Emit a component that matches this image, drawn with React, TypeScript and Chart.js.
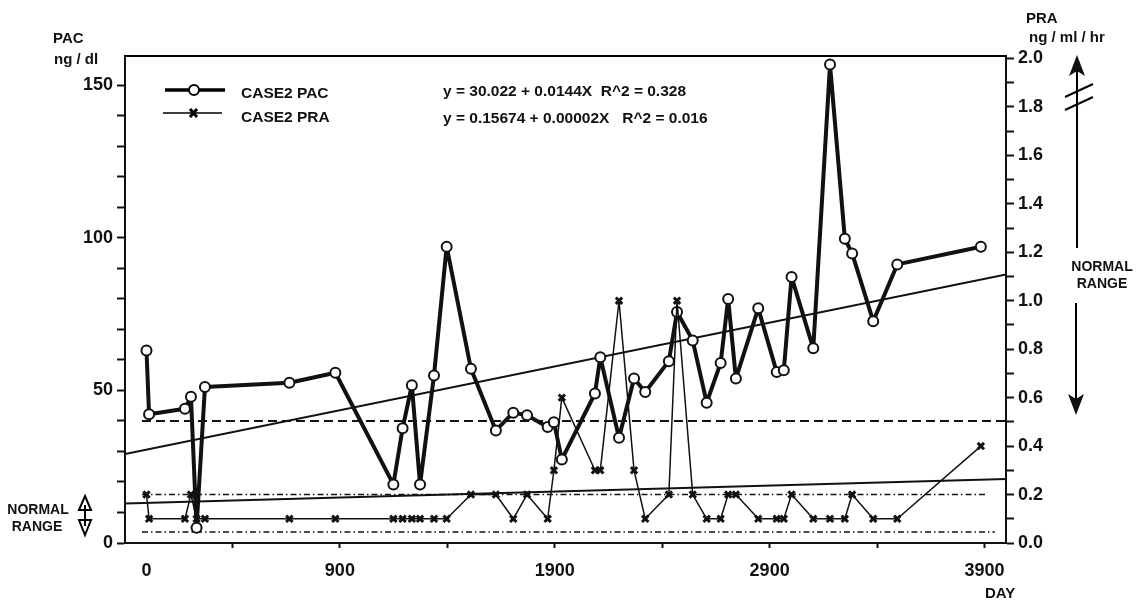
import React, { useEffect, useRef } from "react";
import { Chart, registerables } from "chart.js";

Chart.register(...registerables);

// Sampling days (shared by both series)
const DAYS = [0, 12, 179, 207, 233, 272, 665, 879, 1149, 1192, 1235, 1273, 1338, 1397, 1510, 1626, 1707, 1771, 1867, 1896, 1933, 2087, 2112, 2199, 2269, 2321, 2431, 2469, 2542, 2607, 2672, 2707, 2743, 2847, 2933, 2966, 3002, 3103, 3181, 3250, 3284, 3382, 3494, 3883];
// CASE2 PAC (ng/dl)
const PAC = [63.1, 42.2, 44, 47.9, 5.0, 51.1, 52.5, 55.8, 19.2, 37.6, 51.7, 19.2, 54.9, 97.1, 57.1, 36.9, 42.7, 41.9, 38, 39.6, 27.4, 49, 60.9, 34.5, 53.9, 49.5, 59.6, 75.7, 66.4, 46, 59, 80, 53.9, 76.9, 56, 56.6, 87.2, 63.8, 156.8, 99.7, 94.9, 72.7, 91.3, 97.1];
// CASE2 PRA (ng/ml/hr)
const PRA = [0.2, 0.1, 0.1, 0.2, 0.1, 0.1, 0.1, 0.1, 0.1, 0.1, 0.1, 0.1, 0.1, 0.1, 0.2, 0.2, 0.1, 0.2, 0.1, 0.3, 0.6, 0.3, 0.3, 1.0, 0.3, 0.1, 0.2, 1.0, 0.2, 0.1, 0.1, 0.2, 0.2, 0.1, 0.1, 0.1, 0.2, 0.1, 0.1, 0.1, 0.2, 0.1, 0.1, 0.4];

// Regression lines (end points as drawn)
const FIT_DAYS = [-100, 4000];
const PAC_FIT = [29.2, 88.0];
const PRA_FIT = [0.163, 0.264];

// Normal range reference lines
const PAC_NORMAL_DAYS = [-21, 4000];
const PAC_NORMAL = [40, 40];
const PRA_UPPER_DAYS = [-21, 3911];
const PRA_UPPER = [0.2, 0.2];
const PRA_LOWER_DAYS = [-21, 3948];
const PRA_LOWER = [0.045, 0.045];

// Ticks
const X_TICKS = [0, 400, 900, 1400, 1900, 2400, 2900, 3400, 3900];
const X_LABELED = [0, 900, 1900, 2900, 3900];
const LEFT_TICKS = [0, 10, 20, 30, 40, 50, 60, 70, 80, 90, 100, 110, 120, 130, 140, 150];
const LEFT_LABELED = [0, 50, 100, 150];
const RIGHT_TICKS = [0, 0.1, 0.2, 0.3, 0.4, 0.5, 0.6, 0.7, 0.8, 0.9, 1.0, 1.1, 1.2, 1.3, 1.4, 1.5, 1.6, 1.7, 1.8, 1.9, 2.0];
const RIGHT_LABELED = ["0.0", "0.2", "0.4", "0.6", "0.8", "1.0", "1.2", "1.4", "1.6", "1.8", "2.0"];

const LEGEND = ["CASE2 PAC", "CASE2 PRA"];
const EQUATIONS = ["y = 30.022 + 0.0144X  R^2 = 0.328", "y = 0.15674 + 0.00002X   R^2 = 0.016"];

const FONT = "'Liberation Sans', Arial, sans-serif";

function pts(xs: number[], ys: number[]) {
  return xs.map((x, i) => ({ x, y: ys[i] }));
}

const decorPlugin = {
  id: "decor",
  afterDraw(chart: any) {
    const ctx = chart.ctx as CanvasRenderingContext2D;
    const a = chart.chartArea;
    ctx.save();
    ctx.strokeStyle = "#000";
    ctx.fillStyle = "#111";
    // top border
    ctx.lineWidth = 2;
    ctx.beginPath();
    ctx.moveTo(a.left - 1, a.top);
    ctx.lineTo(a.right + 1, a.top);
    ctx.stroke();

    ctx.textBaseline = "middle";
    ctx.textAlign = "left";
    ctx.font = `bold 15px ${FONT}`;
    ctx.fillText("PAC", 53, 39);
    ctx.fillText("ng / dl", 54, 60);
    ctx.fillText("PRA", 1026, 19);
    ctx.fillText("ng / ml / hr", 1029, 38);
    ctx.fillText("DAY", 985, 594);

    ctx.font = `bold 14px ${FONT}`;
    ctx.textAlign = "center";
    ctx.fillText("NORMAL", 1102, 267);
    ctx.fillText("RANGE", 1102, 284);
    ctx.fillText("NORMAL", 38, 510);
    ctx.fillText("RANGE", 37, 527);

    // legend
    ctx.lineWidth = 3.5;
    ctx.beginPath();
    ctx.moveTo(165, 90);
    ctx.lineTo(225, 90);
    ctx.stroke();
    ctx.fillStyle = "#fff";
    ctx.lineWidth = 2;
    ctx.beginPath();
    ctx.arc(194, 90, 5, 0, Math.PI * 2);
    ctx.fill();
    ctx.stroke();
    ctx.lineWidth = 1.5;
    ctx.beginPath();
    ctx.moveTo(163, 113);
    ctx.lineTo(222, 113);
    ctx.stroke();
    ctx.lineWidth = 3;
    ctx.beginPath();
    ctx.moveTo(190, 109);
    ctx.lineTo(197, 117);
    ctx.moveTo(197, 109);
    ctx.lineTo(190, 117);
    ctx.stroke();

    ctx.fillStyle = "#111";
    ctx.textAlign = "left";
    ctx.font = `bold 15.5px ${FONT}`;
    ctx.fillText(LEGEND[0], 241, 94);
    ctx.fillText(LEGEND[1], 241, 118);
    ctx.fillText(EQUATIONS[0], 443, 92);
    ctx.fillText(EQUATIONS[1], 443, 119);

    // right arrows
    ctx.lineWidth = 2;
    ctx.beginPath();
    ctx.moveTo(1077, 248);
    ctx.lineTo(1077, 70);
    ctx.stroke();
    ctx.beginPath();
    ctx.moveTo(1077, 55);
    ctx.lineTo(1085, 76);
    ctx.lineTo(1077, 71);
    ctx.lineTo(1069, 76);
    ctx.closePath();
    ctx.fill();
    ctx.lineWidth = 2;
    ctx.beginPath();
    ctx.moveTo(1065, 97);
    ctx.lineTo(1093, 84);
    ctx.moveTo(1065, 110);
    ctx.lineTo(1093, 97);
    ctx.stroke();
    ctx.beginPath();
    ctx.moveTo(1076, 303);
    ctx.lineTo(1076, 405);
    ctx.stroke();
    ctx.beginPath();
    ctx.moveTo(1076, 415);
    ctx.lineTo(1084, 394);
    ctx.lineTo(1076, 399);
    ctx.lineTo(1068, 394);
    ctx.closePath();
    ctx.fill();

    // left double arrow (hollow heads)
    ctx.lineWidth = 2;
    ctx.beginPath();
    ctx.moveTo(85, 505);
    ctx.lineTo(85, 526);
    ctx.stroke();
    ctx.beginPath();
    ctx.moveTo(85, 496);
    ctx.lineTo(91, 510);
    ctx.lineTo(79, 510);
    ctx.closePath();
    ctx.stroke();
    ctx.beginPath();
    ctx.moveTo(85, 535);
    ctx.lineTo(91, 520);
    ctx.lineTo(79, 520);
    ctx.closePath();
    ctx.stroke();
    ctx.restore();
  },
};

export default function App() {
  const ref = useRef<HTMLCanvasElement | null>(null);
  useEffect(() => {
    if (!ref.current) return;
    const chart = new Chart(ref.current, {
      type: "line",
      data: {
        datasets: [
          {
            label: "PRA",
            data: pts(DAYS, PRA),
            yAxisID: "y2",
            borderColor: "#111",
            borderWidth: 1.5,
            borderJoinStyle: "round",
            pointStyle: "crossRot",
            pointRadius: 4.5,
            pointBorderWidth: 3,
            pointBorderColor: "#111",
            fill: false,
            order: 0,
          },
          {
            label: "PAC",
            data: pts(DAYS, PAC),
            yAxisID: "y",
            borderColor: "#111",
            borderWidth: 4,
            borderJoinStyle: "round",
            pointStyle: "circle",
            pointRadius: 5,
            pointBorderWidth: 2,
            pointBackgroundColor: "#fff",
            pointBorderColor: "#111",
            fill: false,
            order: 1,
          },
          {
            label: "PAC fit",
            data: pts(FIT_DAYS, PAC_FIT),
            yAxisID: "y",
            borderColor: "#111",
            borderWidth: 2,
            pointRadius: 0,
            order: 2,
          },
          {
            label: "PRA fit",
            data: pts(FIT_DAYS, PRA_FIT),
            yAxisID: "y2",
            borderColor: "#111",
            borderWidth: 2,
            pointRadius: 0,
            order: 2,
          },
          {
            label: "PAC normal",
            data: pts(PAC_NORMAL_DAYS, PAC_NORMAL),
            yAxisID: "y",
            borderColor: "#111",
            borderWidth: 2,
            borderDash: [9, 5],
            pointRadius: 0,
            order: 3,
          },
          {
            label: "PRA upper",
            data: pts(PRA_UPPER_DAYS, PRA_UPPER),
            yAxisID: "y2",
            borderColor: "#111",
            borderWidth: 1.5,
            borderDash: [6, 3, 1.5, 3],
            pointRadius: 0,
            order: 3,
          },
          {
            label: "PRA lower",
            data: pts(PRA_LOWER_DAYS, PRA_LOWER),
            yAxisID: "y2",
            borderColor: "#111",
            borderWidth: 1.5,
            borderDash: [6, 3, 1.5, 3],
            pointRadius: 0,
            order: 3,
          },
        ],
      },
      options: {
        responsive: false,
        animation: false,
        events: [],
        layout: { padding: { top: 56, left: 0, right: 0, bottom: 0 } },
        plugins: { legend: { display: false }, tooltip: { enabled: false } },
        scales: {
          x: {
            type: "linear",
            min: -100,
            max: 4000,
            afterBuildTicks: (s: any) => {
              s.ticks = X_TICKS.map((v) => ({ value: v }));
            },
            afterFit: (s: any) => {
              s.height = 60;
            },
            ticks: {
              autoSkip: false,
              maxRotation: 0,
              padding: 12,
              color: "#111",
              font: { family: FONT, size: 18, weight: "bold" },
              callback: (v: any) => (X_LABELED.includes(Number(v)) ? String(v) : ""),
            },
            grid: {
              drawOnChartArea: false,
              tickLength: 5,
              tickWidth: 2,
              tickColor: (c: any) => (c.tick && c.tick.value === 0 ? "rgba(0,0,0,0)" : "#111"),
            },
            border: { display: true, color: "#111", width: 2 },
          },
          y: {
            type: "linear",
            position: "left",
            min: 0,
            max: 159.6,
            afterBuildTicks: (s: any) => {
              s.ticks = LEFT_TICKS.map((v) => ({ value: v }));
            },
            afterFit: (s: any) => {
              s.width = 125;
            },
            ticks: {
              autoSkip: false,
              padding: 4,
              color: "#111",
              font: { family: FONT, size: 18, weight: "bold" },
              callback: (v: any) => (LEFT_LABELED.includes(Number(v)) ? String(v) : ""),
            },
            grid: { drawOnChartArea: false, tickLength: 8, tickWidth: 2, tickColor: "#111" },
            border: { display: true, color: "#111", width: 2 },
          },
          y2: {
            type: "linear",
            position: "right",
            min: 0,
            max: 2.01,
            afterBuildTicks: (s: any) => {
              s.ticks = RIGHT_TICKS.map((v) => ({ value: v }));
            },
            afterFit: (s: any) => {
              s.width = 134;
            },
            ticks: {
              autoSkip: false,
              padding: 4,
              color: "#111",
              font: { family: FONT, size: 18, weight: "bold" },
              callback: (v: any) => {
                const t = Number(v).toFixed(1);
                return RIGHT_LABELED.includes(t) ? t : "";
              },
            },
            grid: { drawOnChartArea: false, tickLength: 8, tickWidth: 2, tickColor: "#111" },
            border: { display: true, color: "#111", width: 2 },
          },
        },
      } as any,
      plugins: [decorPlugin],
    });
    return () => chart.destroy();
  }, []);
  return (
    <div style={{ position: "absolute", left: 0, top: 0, width: 1140, height: 603, background: "#fff" }}>
      <canvas ref={ref} width={1140} height={603} style={{ display: "block" }} />
    </div>
  );
}
